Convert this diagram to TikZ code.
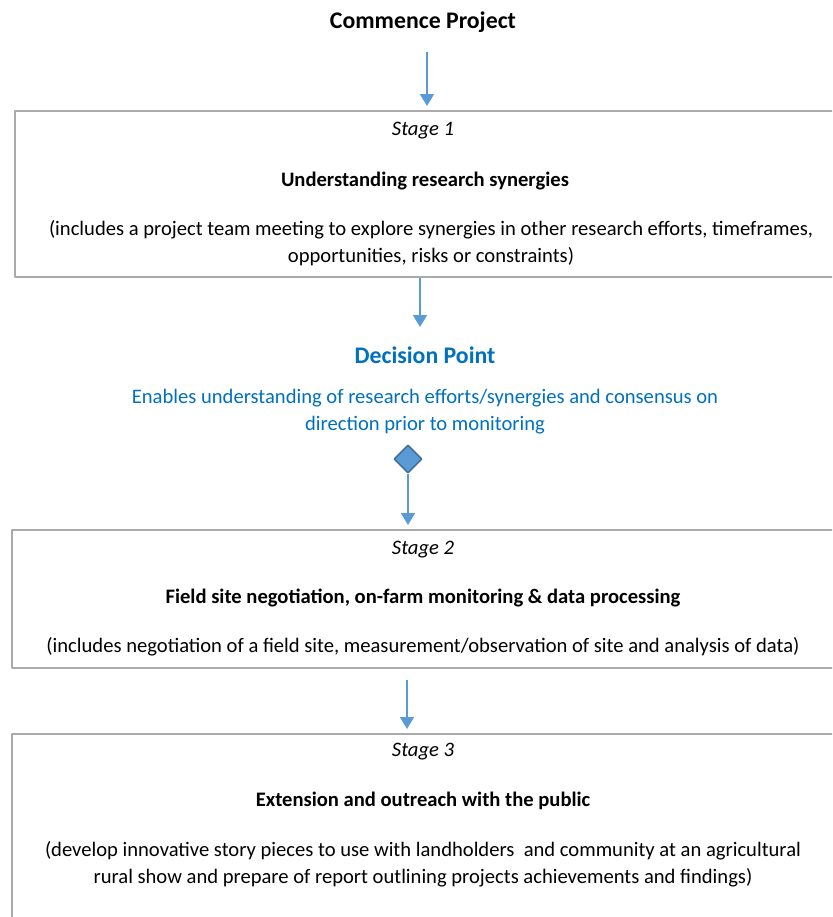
\documentclass[tikz,border=0pt]{standalone}
\usepackage{fontspec}
\setmainfont{Carlito}
\usetikzlibrary{arrows.meta,shapes.geometric}
\definecolor{flowblue}{RGB}{91,155,213}
\definecolor{dpblue}{RGB}{0,112,192}
\definecolor{dpedge}{RGB}{65,113,156}
\definecolor{boxgray}{RGB}{170,170,170}
\tikzset{
  stagebox/.style={draw=boxgray, line width=1pt, anchor=north west, inner sep=0pt},
  flow/.style={->, draw=flowblue, line width=0.9pt, shorten >=2pt},
  txt/.style={align=center, inner sep=0pt},
  big/.style={font=\fontsize{11.9}{13.5}\selectfont\bfseries},
}
\begin{document}
\begin{tikzpicture}[x=0.5pt, y=-0.5pt, font=\fontsize{10.3}{13.5}\selectfont, line join=round,
  >={Triangle[length=6pt, width=7pt]}]
 \useasboundingbox (0,0) rectangle (832,917);
 \clip (0,0) rectangle (832,917);
 % stage boxes
 \node[stagebox, minimum width=410pt, minimum height=83pt] (box1) at (14,110) {};
 \node[stagebox, minimum width=412pt, minimum height=69pt] (box2) at (11,529) {};
 \node[stagebox, minimum width=412pt, minimum height=100pt] (box3) at (11,733) {};
 % texts
 \node[txt, big] (start) at (423,22) {Commence Project};
 \node[txt, font=\fontsize{10.3}{13.5}\selectfont\itshape] (s1) at (423,131) {Stage 1};
 \node[txt, font=\fontsize{10.3}{13.5}\selectfont\bfseries] (t1) at (425,181) {Understanding research synergies};
 \node[txt] (d1) at (431,243) {(includes a project team meeting to explore synergies in other research efforts, timeframes,\\opportunities, risks or constraints)};
 \node[txt, big, text=dpblue] (dp) at (425,355) {Decision Point};
 \node[txt, text=dpblue] (dpd) at (425,412) {Enables understanding of research efforts/synergies and consensus on\\direction prior to monitoring};
 \node[diamond, draw=dpedge, fill=flowblue, line width=0.8pt, inner sep=0pt, minimum width=14pt, minimum height=14pt] (dia) at (408,459) {};
 \node[txt, font=\fontsize{10.3}{13.5}\selectfont\itshape] (s2) at (423,550) {Stage 2};
 \node[txt, font=\fontsize{10.3}{13.5}\selectfont\bfseries] (t2) at (423,598) {Field site negotiation, on-farm monitoring \& data processing};
 \node[txt] (d2) at (423,647) {(includes negotiation of a field site, measurement/observation of site and analysis of data)};
 \node[txt, font=\fontsize{10.3}{13.5}\selectfont\itshape] (s3) at (423,752) {Stage 3};
 \node[txt, font=\fontsize{10.3}{13.5}\selectfont\bfseries] (t3) at (423,801) {Extension and outreach with the public};
 \node[txt] (d3) at (423,864) {(develop innovative story pieces to use with landholders\ \ and community at an agricultural\\rural show and prepare of report outlining projects achievements and findings)};
 % connectors
 \coordinate (a1) at (427,52);
 \coordinate (a2) at (420,327);
 \coordinate (a4) at (407,680);
 \draw[flow] (a1) -- (a1 |- box1.north);
 \draw[flow, shorten >=0pt] (a2 |- box1.south) -- (a2);
 \draw[flow] (dia.south) -- (dia.south |- box2.north);
 \draw[flow] (a4) -- (a4 |- box3.north);
\end{tikzpicture}
\end{document}
